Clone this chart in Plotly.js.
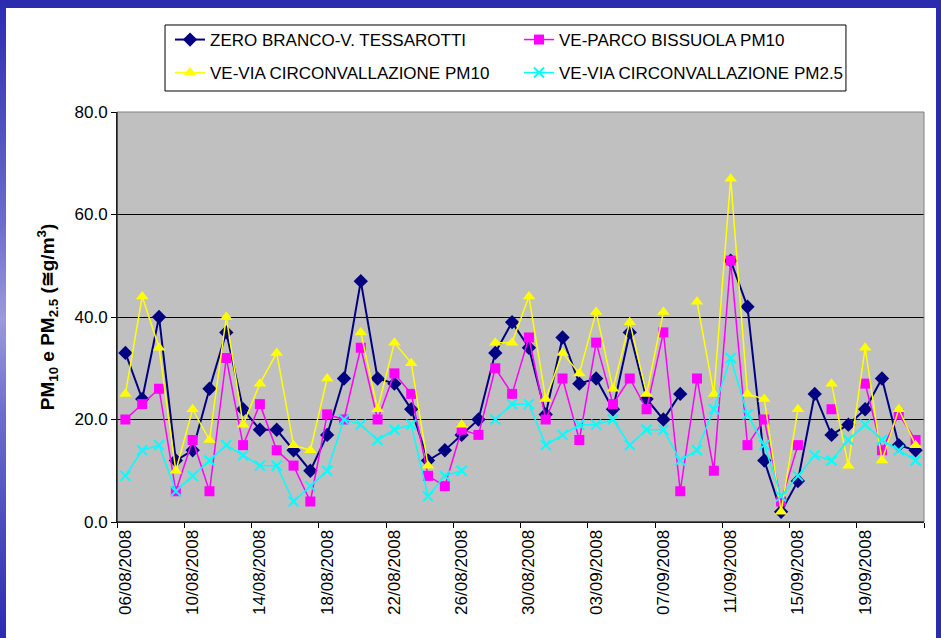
<!DOCTYPE html>
<html>
<head>
<meta charset="utf-8">
<script src="https://cdn.plot.ly/plotly-3.0.1.min.js"></script>
<style>
  html, body { margin: 0; padding: 0; }
  body { width: 941px; height: 638px; background: #2b2bb0; position: relative; overflow: hidden; }
  #leftstrip { position: absolute; left: 0; top: 0; width: 6px; height: 638px;
    background: linear-gradient(to bottom, #2b2bb0 0%, #6c6cd0 35%, #9a9ae0 50%, #6c6cd0 65%, #2b2bb0 100%); }
  #panel { position: absolute; left: 6px; top: 8px; width: 930px; height: 630px; background: #ffffff; }
  #chart { width: 930px; height: 630px; }
</style>
</head>
<body>
<div id="leftstrip"></div>
<div id="panel"><div id="chart"></div></div>
<script>
// Categories: one per day
var dates = [
  "06/08/2008","07/08/2008","08/08/2008","09/08/2008","10/08/2008","11/08/2008","12/08/2008","13/08/2008",
  "14/08/2008","15/08/2008","16/08/2008","17/08/2008","18/08/2008","19/08/2008","20/08/2008","21/08/2008",
  "22/08/2008","23/08/2008","24/08/2008","25/08/2008","26/08/2008","27/08/2008","28/08/2008","29/08/2008",
  "30/08/2008","31/08/2008","01/09/2008","02/09/2008","03/09/2008","04/09/2008","05/09/2008","06/09/2008",
  "07/09/2008","08/09/2008","09/09/2008","10/09/2008","11/09/2008","12/09/2008","13/09/2008","14/09/2008",
  "15/09/2008","16/09/2008","17/09/2008","18/09/2008","19/09/2008","20/09/2008","21/09/2008","22/09/2008"
];

var zeroBranco = [33,24,40,12,14,26,37,22,18,18,14,10,17,28,47,28,27,22,12,14,17,20,33,39,
                  34,21,36,27,28,22,37,24,20,25,null,null,51,42,12,2,8,25,17,19,22,28,15,14];
var parcoBissuola = [20,23,26,6,16,6,32,15,23,14,11,4,21,20,34,20,29,25,9,7,18,17,30,25,
                     36,20,28,16,35,23,28,22,37,6,28,10,51,15,20,4,15,null,22,null,27,14,21,16];
var circPM10 = [25,44,34,10,22,16,40,19,27,33,15,14,28,null,37,22,35,31,11,null,19,null,35,35,
                44,24,33,29,41,26,39,25,41,null,43,25,67,25,24,2,22,null,27,11,34,12,22,15];
var circPM25 = [9,14,15,6,9,12,15,13,11,11,4,7,10,20,19,16,18,19,5,9,10,null,20,23,
                23,15,17,19,19,20,15,18,18,12,14,22,32,21,15,5,9,13,12,16,19,16,14,12];

var seriesNames = ["ZERO BRANCO-V. TESSAROTTI", "VE-PARCO BISSUOLA PM10",
                   "VE-VIA CIRCONVALLAZIONE PM10", "VE-VIA CIRCONVALLAZIONE PM2.5"];
var yTitle = "<b>PM<sub>10</sub> e PM<sub>2.5</sub> (≅g/m<sup>3</sup>)</b>";

var FONT = "Liberation Sans, Arial, sans-serif";

var traces = [
  { x: dates, y: zeroBranco, name: seriesNames[0], type: "scatter", mode: "lines+markers",
    line: { color: "#000080", width: 2 },
    marker: { symbol: "diamond", size: 11, color: "#000080" }, legend: "legend" },
  { x: dates, y: parcoBissuola, name: seriesNames[1], type: "scatter", mode: "lines+markers",
    line: { color: "#ff00ff", width: 1.5 },
    marker: { symbol: "square", size: 10, color: "#ff00ff" }, legend: "legend" },
  { x: dates, y: circPM10, name: seriesNames[2], type: "scatter", mode: "lines+markers",
    line: { color: "#ffff00", width: 1.5 },
    marker: { symbol: "triangle-up", size: 11, color: "#ffff00" }, legend: "legend2" },
  { x: dates, y: circPM25, name: seriesNames[3], type: "scatter", mode: "lines+markers",
    line: { color: "#00ffff", width: 1.5 },
    marker: { symbol: "x-thin-open", size: 10, color: "#00ffff", line: { color: "#00ffff", width: 2 } }, legend: "legend2" }
];

var legendCommon = {
  orientation: "h", xanchor: "left", yanchor: "middle",
  bgcolor: "rgba(0,0,0,0)", borderwidth: 0,
  font: { family: FONT, size: 17, color: "#000" },
  entrywidth: 304, entrywidthmode: "pixels", traceorder: "normal"
};

var layout = {
  width: 930, height: 630,
  paper_bgcolor: "#ffffff", plot_bgcolor: "#c0c0c0",
  margin: { l: 111, r: 12, t: 104, b: 116 },
  font: { family: FONT, size: 17, color: "#000" },
  showlegend: true,
  legend: Object.assign({}, legendCommon, { x: 0.0657, y: 1.1756 }),
  legend2: Object.assign({}, legendCommon, { x: 0.0657, y: 1.0951 }),
  xaxis: {
    type: "category", range: [-0.5, 47.5],
    tickmode: "linear", tick0: 0, dtick: 4, tickson: "boundaries",
    tickangle: -90, ticks: "outside", ticklen: 5, tickcolor: "#000",
    showline: true, linecolor: "#000", linewidth: 1,
    showgrid: false, zeroline: false,
    tickfont: { family: FONT, size: 17, color: "#000" }
  },
  yaxis: {
    range: [0, 80], tickmode: "linear", tick0: 0, dtick: 20, tickformat: ".1f",
    ticks: "outside", ticklen: 5, tickcolor: "#000",
    showline: true, linecolor: "#000", linewidth: 1,
    showgrid: true, gridcolor: "#000", gridwidth: 1, zeroline: false,
    tickfont: { family: FONT, size: 17, color: "#000" },
    title: { text: yTitle, font: { family: FONT, size: 19, color: "#000" }, standoff: 14 }
  },
  shapes: [
    { type: "rect", xref: "paper", yref: "paper", x0: 0, x1: 1, y0: 0, y1: 1,
      line: { color: "#808080", width: 1 }, fillcolor: "rgba(0,0,0,0)", layer: "above" },
    { type: "line", xref: "paper", yref: "paper", x0: 0, x1: 0, y0: 0, y1: 1,
      line: { color: "#000", width: 1 }, layer: "above" },
    { type: "line", xref: "paper", yref: "paper", x0: 0, x1: 1, y0: 0, y1: 0,
      line: { color: "#000", width: 1 }, layer: "above" },
    { type: "rect", xref: "paper", yref: "paper", x0: 0.0595, x1: 0.9033, y0: 1.0512, y1: 1.2122,
      line: { color: "#000", width: 1 }, fillcolor: "rgba(0,0,0,0)", layer: "above" }
  ]
};

Plotly.newPlot("chart", traces, layout, { displayModeBar: false, staticPlot: true });
</script>
</body>
</html>
